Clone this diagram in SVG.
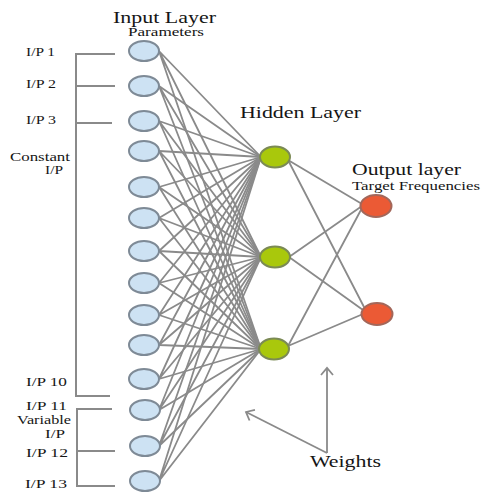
<svg xmlns="http://www.w3.org/2000/svg" width="481" height="494" viewBox="0 0 481 494">
<style>
text{font-family:"Liberation Serif","DejaVu Serif",serif;fill:#151515}
.lbl{font-size:13px}
.sm{font-size:12px}
.ttl{font-size:16px}
.sub{font-size:11.5px}
.w{stroke:#8a8a8a;stroke-width:1.8;fill:none}
.br{stroke:#8a8a8a;stroke-width:2;fill:none}
.in{fill:#cde2f3;stroke:#7e8a96;stroke-width:2}
.hid{fill:#a9c80c;stroke:#7b8a55;stroke-width:2}
.out{fill:#eb5a35;stroke:#a3675a;stroke-width:2}
</style>
<defs>
<marker id="ah" markerUnits="userSpaceOnUse" markerWidth="14" markerHeight="14" refX="0" refY="0" viewBox="-8 -7 10 14" orient="auto">
<path d="M-7,-6 L0,0 L-7,6" fill="none" stroke="#8a8a8a" stroke-width="1.8"/>
</marker>
</defs>
<rect width="481" height="494" fill="#ffffff"/>
<g id="connectors">
<g id="in-hidden" class="w">
<path d="M159,51L261,157M159,51L261,257M159,51L261,349"/>
<path d="M159,86L261,157M159,86L261,257M159,86L261,349"/>
<path d="M159,121L261,157M159,121L261,257M159,121L261,349"/>
<path d="M159,151L261,157M159,151L261,257M159,151L261,349"/>
<path d="M159,187L261,157M159,187L261,257M159,187L261,349"/>
<path d="M159,218L261,157M159,218L261,257M159,218L261,349"/>
<path d="M159,251L261,157M159,251L261,257M159,251L261,349"/>
<path d="M159,283L261,157M159,283L261,257M159,283L261,349"/>
<path d="M159,315L261,157M159,315L261,257M159,315L261,349"/>
<path d="M159,345L261,157M159,345L261,257M159,345L261,349"/>
<path d="M159,379L261,157M159,379L261,257M159,379L261,349"/>
<path d="M159,410L261,157M159,410L261,257M159,410L261,349"/>
<path d="M159,446L261,157M159,446L261,257M159,446L261,349"/>
<path d="M159,481L261,157M159,481L261,257M159,481L261,349"/>
</g>
<g id="hidden-out" class="w">
<path d="M288,160L362,204M288,160L364,307"/>
<path d="M289,257L362,206M289,257L363,310"/>
<path d="M288,346L362,208M288,346L363,314"/>
</g>
<g id="brackets" class="br">
<path d="M115,54H76V396H110"/>
<path d="M76,86H115"/>
<path d="M76,123H112"/>
<path d="M112,409H77V486H115"/>
<path d="M77,451H115"/>
</g>
<g id="weight-arrows" class="w">
<path d="M327,453V368" marker-end="url(#ah)"/>
<path d="M327,453L246,412" marker-end="url(#ah)"/>
</g>
</g>
<g id="input-layer">
<ellipse id="i1" class="in" cx="144" cy="51" rx="15" ry="10"/>
<ellipse id="i2" class="in" cx="144" cy="86" rx="15" ry="10"/>
<ellipse id="i3" class="in" cx="144" cy="121" rx="15" ry="10"/>
<ellipse id="i4" class="in" cx="144" cy="151" rx="15" ry="10"/>
<ellipse id="i5" class="in" cx="144" cy="187" rx="15" ry="10"/>
<ellipse id="i6" class="in" cx="144" cy="218" rx="15" ry="10"/>
<ellipse id="i7" class="in" cx="144" cy="251" rx="15" ry="10"/>
<ellipse id="i8" class="in" cx="144" cy="283" rx="15" ry="10"/>
<ellipse id="i9" class="in" cx="144" cy="315" rx="15" ry="10"/>
<ellipse id="i10" class="in" cx="144" cy="345" rx="15" ry="10"/>
<ellipse id="i11" class="in" cx="144" cy="379" rx="15" ry="10"/>
<ellipse id="i12" class="in" cx="145" cy="410" rx="15" ry="10"/>
<ellipse id="i13" class="in" cx="145" cy="446" rx="15" ry="10"/>
<ellipse id="i14" class="in" cx="145" cy="481" rx="15" ry="10"/>
</g>
<g id="hidden-layer">
<ellipse id="h1" class="hid" cx="275" cy="157" rx="15" ry="10.5"/>
<ellipse id="h2" class="hid" cx="275" cy="257" rx="15" ry="10.5"/>
<ellipse id="h3" class="hid" cx="274" cy="349" rx="15" ry="10.5"/>
</g>
<g id="output-layer">
<ellipse id="o1" class="out" cx="376" cy="206" rx="15.5" ry="11"/>
<ellipse id="o2" class="out" cx="377" cy="314" rx="15.5" ry="11"/>
</g>
<g id="labels">
<text class="ttl" x="113" y="23" textLength="103" lengthAdjust="spacingAndGlyphs">Input Layer</text>
<text class="sub" x="128" y="36" textLength="76" lengthAdjust="spacingAndGlyphs">Parameters</text>
<text class="ttl" x="240" y="118" textLength="121" lengthAdjust="spacingAndGlyphs">Hidden Layer</text>
<text class="ttl" x="352" y="175" textLength="109" lengthAdjust="spacingAndGlyphs">Output layer</text>
<text class="sub" x="352" y="190" textLength="128" lengthAdjust="spacingAndGlyphs">Target Frequencies</text>
<text class="ttl" x="310" y="467" textLength="71" lengthAdjust="spacingAndGlyphs">Weights</text>
<text class="lbl" x="26" y="56" textLength="29" lengthAdjust="spacingAndGlyphs">I/P 1</text>
<text class="lbl" x="26" y="88" textLength="30" lengthAdjust="spacingAndGlyphs">I/P 2</text>
<text class="lbl" x="26" y="124" textLength="30" lengthAdjust="spacingAndGlyphs">I/P 3</text>
<text class="lbl" x="10" y="161" textLength="60" lengthAdjust="spacingAndGlyphs">Constant</text>
<text class="lbl" x="45" y="174" textLength="18" lengthAdjust="spacingAndGlyphs">I/P</text>
<text class="lbl" x="26" y="386" textLength="41" lengthAdjust="spacingAndGlyphs">I/P 10</text>
<text class="sm" x="26" y="410" textLength="41" lengthAdjust="spacingAndGlyphs">I/P 11</text>
<text class="sm" x="17" y="424" textLength="54" lengthAdjust="spacingAndGlyphs">Variable</text>
<text class="sm" x="45" y="438" textLength="20" lengthAdjust="spacingAndGlyphs">I/P</text>
<text class="lbl" x="26" y="457" textLength="42" lengthAdjust="spacingAndGlyphs">I/P 12</text>
<text class="lbl" x="25" y="488" textLength="42" lengthAdjust="spacingAndGlyphs">I/P 13</text>
</g>
</svg>
